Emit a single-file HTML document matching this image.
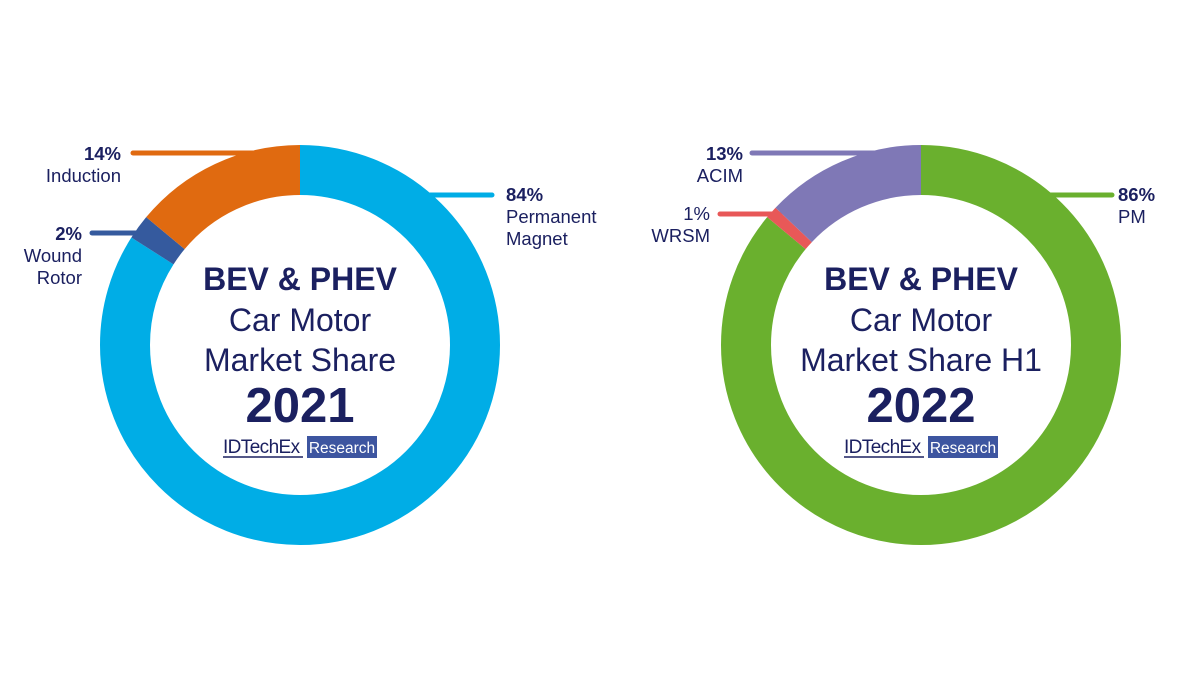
<!DOCTYPE html>
<html><head><meta charset="utf-8"><style>
html,body{margin:0;padding:0;background:#fff;}
svg{display:block;}
text{font-family:"Liberation Sans",Arial,sans-serif;fill:#1b2060;}
</style></head><body>
<svg width="1200" height="675" viewBox="0 0 1200 675" xmlns="http://www.w3.org/2000/svg">
<line x1="133" y1="153" x2="290" y2="153" stroke="#e06a10" stroke-width="5" stroke-linecap="round"/>
<line x1="92" y1="233" x2="150" y2="233" stroke="#355a9e" stroke-width="5" stroke-linecap="round"/>
<line x1="430" y1="195" x2="492" y2="195" stroke="#00ade6" stroke-width="5" stroke-linecap="round"/>
<g transform="translate(300,345) rotate(-90)">
  <circle r="175" fill="none" stroke="#00ade6" stroke-width="50" stroke-dasharray="923.63 1099.56"/>
  <circle r="175" fill="none" stroke="#355a9e" stroke-width="50" stroke-dasharray="21.99 1099.56" stroke-dashoffset="-923.63"/>
  <circle r="175" fill="none" stroke="#e06a10" stroke-width="50" stroke-dasharray="153.94 1099.56" stroke-dashoffset="-945.62"/>
</g>
<text x="121" y="160" font-size="18.5" font-weight="bold" text-anchor="end">14%</text>
<text x="121" y="182" font-size="18.5" text-anchor="end">Induction</text>
<text x="82" y="240" font-size="18.5" font-weight="bold" text-anchor="end">2%</text>
<text x="82" y="262" font-size="18.5" text-anchor="end">Wound</text>
<text x="82" y="284" font-size="18.5" text-anchor="end">Rotor</text>
<text x="506" y="201" font-size="18.5" font-weight="bold">84%</text>
<text x="506" y="223" font-size="18.5">Permanent</text>
<text x="506" y="245" font-size="18.5">Magnet</text>
<text x="300" y="290" font-size="32" font-weight="bold" text-anchor="middle">BEV &amp; PHEV</text>
<text x="300" y="331" font-size="32" text-anchor="middle">Car Motor</text>
<text x="300" y="371" font-size="32" text-anchor="middle">Market Share</text>
<text x="300" y="422" font-size="49" font-weight="bold" text-anchor="middle">2021</text>
<text x="223" y="453" font-size="19" style="letter-spacing:-0.6px">IDTechEx</text>
<line x1="223" y1="457" x2="303" y2="457" stroke="#1b2060" stroke-width="1.5"/>
<rect x="307" y="436" width="70" height="22" fill="#3d55a0"/>
<text x="342" y="453" font-size="15.5" text-anchor="middle" style="fill:#fff">Research</text>

<line x1="752" y1="153" x2="910" y2="153" stroke="#7f78b6" stroke-width="5" stroke-linecap="round"/>
<line x1="720" y1="214" x2="780" y2="214" stroke="#e85858" stroke-width="5" stroke-linecap="round"/>
<line x1="1040" y1="195" x2="1112" y2="195" stroke="#6ab02e" stroke-width="5" stroke-linecap="round"/>
<g transform="translate(921,345) rotate(-90)">
  <circle r="175" fill="none" stroke="#6ab02e" stroke-width="50" stroke-dasharray="945.62 1099.56"/>
  <circle r="175" fill="none" stroke="#e85858" stroke-width="50" stroke-dasharray="11 1099.56" stroke-dashoffset="-945.62"/>
  <circle r="175" fill="none" stroke="#7f78b6" stroke-width="50" stroke-dasharray="142.94 1099.56" stroke-dashoffset="-956.62"/>
</g>
<text x="743" y="160" font-size="18.5" font-weight="bold" text-anchor="end">13%</text>
<text x="743" y="182" font-size="18.5" text-anchor="end">ACIM</text>
<text x="710" y="220" font-size="18.5" text-anchor="end">1%</text>
<text x="710" y="242" font-size="18.5" text-anchor="end">WRSM</text>
<text x="1118" y="201" font-size="18.5" font-weight="bold">86%</text>
<text x="1118" y="223" font-size="18.5">PM</text>
<text x="921" y="290" font-size="32" font-weight="bold" text-anchor="middle">BEV &amp; PHEV</text>
<text x="921" y="331" font-size="32" text-anchor="middle">Car Motor</text>
<text x="921" y="371" font-size="32" text-anchor="middle">Market Share H1</text>
<text x="921" y="422" font-size="49" font-weight="bold" text-anchor="middle">2022</text>
<text x="844" y="453" font-size="19" style="letter-spacing:-0.6px">IDTechEx</text>
<line x1="844" y1="457" x2="924" y2="457" stroke="#1b2060" stroke-width="1.5"/>
<rect x="928" y="436" width="70" height="22" fill="#3d55a0"/>
<text x="963" y="453" font-size="15.5" text-anchor="middle" style="fill:#fff">Research</text>
</svg>
</body></html>
